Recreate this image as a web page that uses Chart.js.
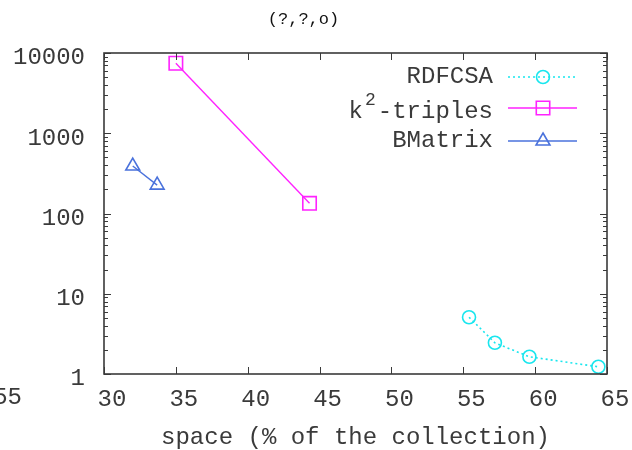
<!DOCTYPE html>
<html>
<head>
<meta charset="utf-8">
<script src="https://cdn.jsdelivr.net/npm/chart.js@4.4.1/dist/chart.umd.min.js"></script>
<style>
  html, body { margin: 0; padding: 0; background: #fff; }
  #wrap { width: 632px; height: 450px; }
</style>
</head>
<body>
<div id="wrap"><canvas id="plot" width="632" height="450"></canvas></div>
<script>
// data
const seriesNames = ['RDFCSA', 'k2-triples', 'BMatrix'];
const rdfcsaSpace = [55.4, 57.2, 59.6, 64.4];
const rdfcsaTime = [5.1, 2.45, 1.64, 1.23];
const k2Space = [35.0, 44.3];
const k2Time = [7450, 134];
const bmatrixSpace = [32.0, 33.7];
const bmatrixTime = [390, 226];
const xTicks = [30, 35, 40, 45, 50, 55, 60, 65];
const yTicks = [1, 10, 100, 1000, 10000];

const MONO = '"Liberation Mono", "DejaVu Sans Mono", monospace';
const INK = '#3a3a3a';

function toPoints(xs, ys) {
    return xs.map(function(x, i) { return { x: x, y: ys[i] }; });
}

// gnuplot style border + inward ticks on all four sides
const frame = {
    id: 'frame',
    afterDatasetsDraw: function(chart) {
        const ctx = chart.ctx;
        const a = chart.chartArea;
        const xs = chart.scales.x, ys = chart.scales.y;
        ctx.save();
        ctx.strokeStyle = INK;
        ctx.lineWidth = 1;
        ctx.beginPath();
        xTicks.forEach(function(v) {
            const px = Math.round(xs.getPixelForValue(v)) + 0.5;
            ctx.moveTo(px, a.bottom); ctx.lineTo(px, a.bottom - 7);
            ctx.moveTo(px, a.top); ctx.lineTo(px, a.top + 7);
        });
        for (let d = 1; d <= 10000; d *= 10) {
            for (let m = 1; m < 10; m++) {
                const v = d * m;
                if (v > 10000) break;
                const len = m === 1 ? 7 : 4;
                const py = Math.round(ys.getPixelForValue(v)) + 0.5;
                ctx.moveTo(a.left, py); ctx.lineTo(a.left + len, py);
                ctx.moveTo(a.right, py); ctx.lineTo(a.right - len, py);
            }
        }
        ctx.stroke();
        ctx.lineWidth = 1.6;
        ctx.strokeRect(a.left, a.top, a.right - a.left, a.bottom - a.top);
        // clipped tick label from the neighbouring panel
        ctx.fillStyle = INK;
        ctx.font = '24px ' + MONO;
        ctx.textAlign = 'right';
        ctx.textBaseline = 'middle';
        ctx.fillText('55', 22, 398);
        ctx.restore();
    }
};

// key in the top right corner: label, then line sample with marker
const key = {
    id: 'key',
    afterDraw: function(chart) {
        const ctx = chart.ctx;
        const rows = [77, 108, 141];
        const textRight = 493, lineL = 508, lineR = 577, mark = 543;
        ctx.save();
        chart.data.datasets.forEach(function(ds, i) {
            const y = rows[i];
            ctx.fillStyle = INK;
            ctx.textBaseline = 'middle';
            ctx.textAlign = 'right';
            ctx.font = '24px ' + MONO;
            if (i === 1) {
                ctx.fillText('-triples', textRight, y + 4);
                const w = ctx.measureText('-triples').width;
                ctx.font = '18px ' + MONO;
                ctx.fillText('2', textRight - w - 2, y - 8);
                const w2 = ctx.measureText('2').width;
                ctx.font = '24px ' + MONO;
                ctx.fillText('k', textRight - w - w2 - 4, y + 4);
            } else {
                ctx.fillText(ds.label, textRight, y);
            }
            ctx.strokeStyle = ds.borderColor;
            ctx.lineWidth = ds.borderWidth;
            ctx.setLineDash(ds.borderDash || []);
            ctx.beginPath();
            ctx.moveTo(lineL, y); ctx.lineTo(lineR, y);
            ctx.stroke();
            ctx.setLineDash([]);
            ctx.fillStyle = 'rgba(0,0,0,0)';
            ctx.strokeStyle = ds.pointBorderColor;
            ctx.lineWidth = ds.pointBorderWidth;
            Chart.helpers.drawPoint(ctx, {
                pointStyle: ds.pointStyle,
                radius: ds.pointRadius,
                borderWidth: ds.pointBorderWidth,
                rotation: 0
            }, mark, y);
        });
        ctx.restore();
    }
};

const ctx = document.getElementById('plot');
const chart = new Chart(ctx, {
    type: 'line',
    data: {
        datasets: [{
            label: seriesNames[0],
            data: toPoints(rdfcsaSpace, rdfcsaTime),
            borderColor: '#19e6ee',
            borderWidth: 1.6,
            borderDash: [2, 3],
            pointStyle: 'circle',
            pointRadius: 6.5,
            pointBorderWidth: 1.6,
            pointBorderColor: '#19e6ee',
            pointBackgroundColor: 'rgba(0,0,0,0)'
        }, {
            label: seriesNames[1],
            data: toPoints(k2Space, k2Time),
            borderColor: '#ff22ff',
            borderWidth: 1.4,
            pointStyle: 'rect',
            pointRadius: 9.5,
            pointBorderWidth: 1.6,
            pointBorderColor: '#ff22ff',
            pointBackgroundColor: 'rgba(0,0,0,0)'
        }, {
            label: seriesNames[2],
            data: toPoints(bmatrixSpace, bmatrixTime),
            borderColor: '#4a72dc',
            borderWidth: 1.4,
            pointStyle: 'triangle',
            pointRadius: 8,
            pointBorderWidth: 1.6,
            pointBorderColor: '#4a72dc',
            pointBackgroundColor: 'rgba(0,0,0,0)'
        }]
    },
    options: {
        responsive: false,
        animation: false,
        layout: { padding: { left: 0, right: 25, top: 0, bottom: 0 } },
        plugins: {
            legend: { display: false },
            tooltip: { enabled: false },
            title: {
                display: true,
                text: '(?,?,o)',
                color: '#111',
                font: { family: MONO, size: 17, weight: 'normal', lineHeight: 1.2 },
                padding: { top: 9, bottom: 23.6 }
            }
        },
        scales: {
            x: {
                type: 'linear',
                min: 30,
                max: 65,
                afterFit: function(s) { s.height = 76; },
                afterBuildTicks: function(s) { s.ticks = xTicks.map(function(v) { return { value: v }; }); },
                grid: { display: false },
                border: { display: false },
                ticks: {
                    color: INK,
                    font: { family: MONO, size: 24 },
                    padding: 3,
                    labelOffset: 8,
                    maxRotation: 0
                },
                title: {
                    display: true,
                    text: 'space (% of the collection)',
                    color: INK,
                    font: { family: MONO, size: 24, lineHeight: 1 },
                    padding: { top: 0, bottom: 0 }
                }
            },
            y: {
                type: 'logarithmic',
                min: 1,
                max: 10000,
                afterFit: function(s) { s.width = 104; },
                afterBuildTicks: function(s) { s.ticks = yTicks.map(function(v) { return { value: v }; }); },
                grid: { display: false },
                border: { display: false },
                ticks: {
                    color: INK,
                    font: { family: MONO, size: 24 },
                    padding: 11,
                    labelOffset: 5,
                    callback: function(v) { return String(v); }
                }
            }
        }
    },
    plugins: [frame, key]
});
</script>
</body>
</html>
